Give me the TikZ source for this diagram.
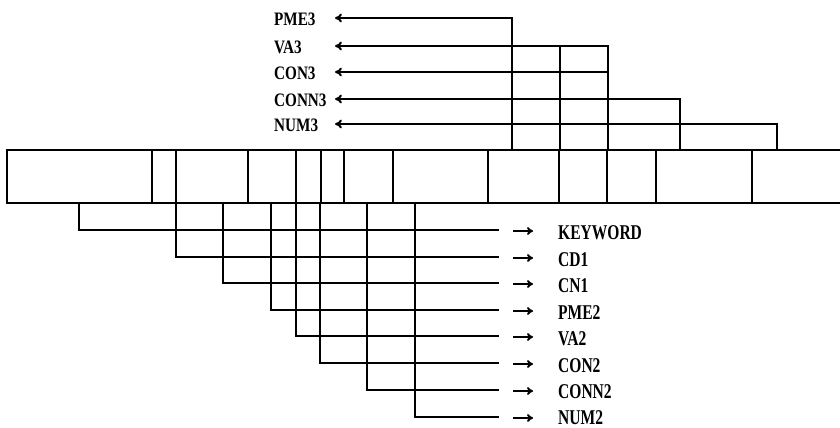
\documentclass[tikz,border=0pt]{standalone}
\usepackage{fontspec}
\setmainfont{Liberation Serif}
\newfontfamily\topfont{Liberation Serif Bold}[FakeStretch=0.8]
\newfontfamily\botfont{Liberation Serif Bold}[FakeStretch=0.74]
\usetikzlibrary{arrows.meta}
\begin{document}
\begin{tikzpicture}[x=1pt,y=-1pt,
  rec/.style={line width=2pt},
  conn/.style={line width=2pt},
  lefttip/.style={-{To[length=7pt,width=9pt]}},
  righttip/.style={-{To[length=6pt,width=8pt]}},
  lbl/.style={anchor=base west, inner sep=0pt, text depth=0pt},
  toplbl/.style={lbl, font=\topfont\fontsize{19}{23}\selectfont},
  botlbl/.style={lbl, font=\botfont\fontsize{21}{25}\selectfont}]
\useasboundingbox (0,0) rectangle (840,428);
% record
\draw[rec] (7,150) rectangle (870,203);
\foreach \x [count=\i] in {152,176,248,296,321,344,393,488,559,607,656,752}
  \draw[rec] (\x,150) coordinate (d\i) -- (\x,203);
% top labels and their tips
\foreach \n/\t/\y in {pme3/PME3/18, va3/VA3/46, con3/CON3/72, conn3/CONN3/99, num3/NUM3/124}{
  \node[toplbl] (\n) at (274,\y+7.7) {\t};
  \coordinate (\n tip) at (335,\y);
}
% top connectors
\coordinate (u1) at (512,150);
\coordinate (u2) at (560,150);
\coordinate (u3) at (608,150);
\coordinate (u4) at (680,150);
\coordinate (u5) at (777,150);
\coordinate (u3c) at (608,72);
\draw[conn,lefttip] (u1) |- (pme3tip);
\draw[conn,lefttip] (u3) |- (va3tip);
\draw[conn] (u2) -- (u2 |- va3tip);
\draw[conn,lefttip] (u3c) -- (con3tip);
\draw[conn,lefttip] (u4) |- (conn3tip);
\draw[conn,lefttip] (u5) |- (num3tip);
% bottom connectors and labels
\foreach \n/\t/\x/\y/\b in {kw/KEYWORD/79/230/9.5, cd1/CD1/176/257/9.5, cn1/CN1/223/283/9.5,
  pme2/PME2/271/310/9, va2/VA2/296/336/9, con2/CON2/320/363/9,
  conn2/CONN2/367/390/8.5, num2/NUM2/415/417/7}{
  \coordinate (\n src) at (\x,203);
  \coordinate (\n end) at (499,\y);
  \coordinate (\n a) at (513,\y+1);
  \coordinate (\n b) at (533,\y+1);
  \node[botlbl] (\n) at (558,\y+\b) {\t};
  \draw[conn] (\n src) |- (\n end);
  \draw[conn,righttip] (\n a) -- (\n b);
}
\end{tikzpicture}
\end{document}
